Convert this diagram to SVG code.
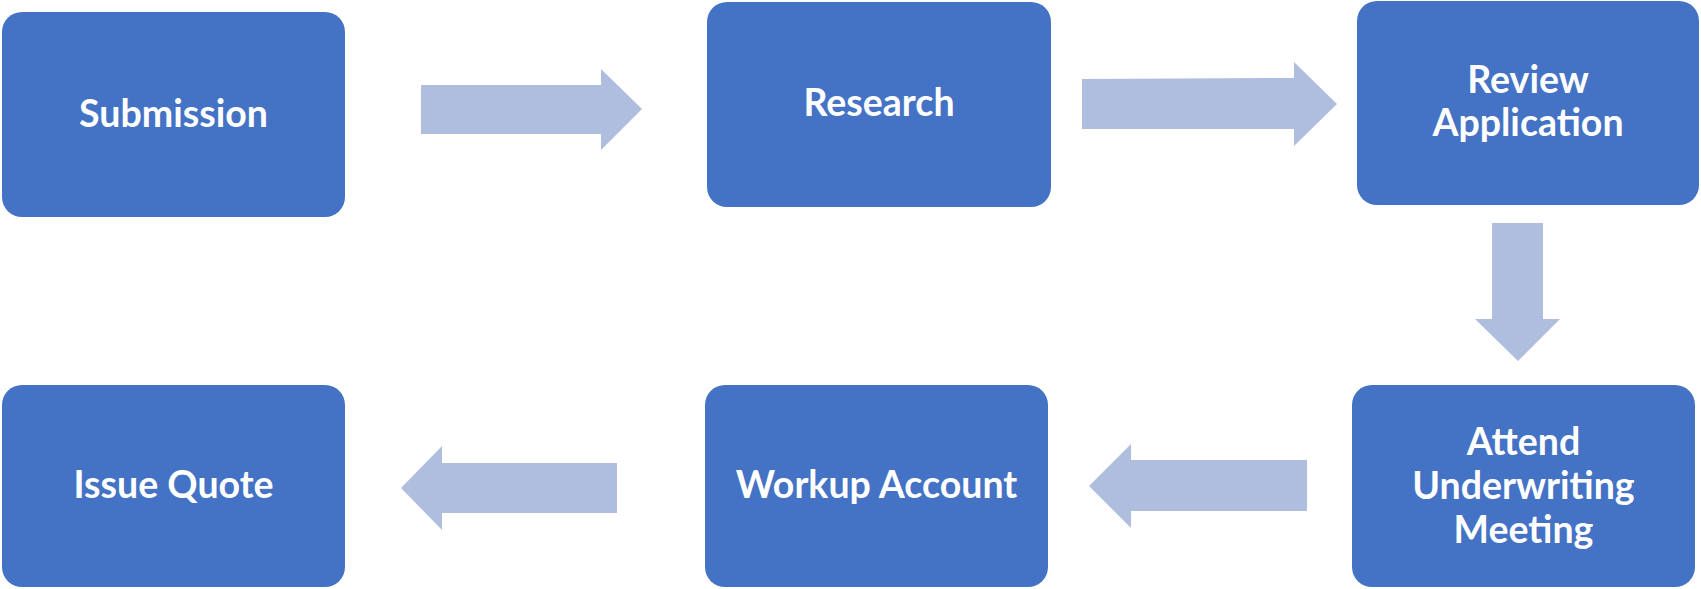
<svg xmlns="http://www.w3.org/2000/svg" width="1701" height="589" viewBox="0 0 1701 589">
<style>
.box{fill:#4472C4;}
.arr{fill:#AFBDDF;}
.lbl{font-family:Lato,"Open Sans","Liberation Sans",sans-serif;font-weight:bold;font-size:37.5px;fill:#FFFFFF;text-anchor:middle;}
</style>
<rect width="1701" height="589" fill="#FFFFFF"/>
<g id="connectors">
<polygon class="arr" points="421,85 601,85 601,69 642,109 601,150 601,134 421,134"/>
<polygon class="arr" points="1082,79 1294,78 1294,62 1337,104 1294,146 1294,129 1082,129"/>
<polygon class="arr" points="1492,223 1543,223 1543,319 1560,319 1518,361 1475,319 1492,319"/>
<polygon class="arr" points="1307,460 1131,460 1131,444 1089,486 1131,528 1131,511 1307,511"/>
<polygon class="arr" points="617,463 442,463 442,446 401,488 442,530 442,513 617,513"/>
</g>
<g id="submission">
<rect class="box" x="2" y="12" width="343" height="205" rx="20"/>
<text class="lbl" x="173.5" y="127">Submission</text>
</g>
<g id="research">
<rect class="box" x="707" y="2" width="344" height="205" rx="20"/>
<text class="lbl" x="879" y="116">Research</text>
</g>
<g id="review">
<rect class="box" x="1357" y="1" width="342" height="204" rx="20"/>
<text class="lbl" x="1528" y="93">Review</text>
<text class="lbl" x="1528" y="136">Application</text>
</g>
<g id="attend">
<rect class="box" x="1352" y="385" width="343" height="202" rx="20"/>
<text class="lbl" x="1523.5" y="455">Attend</text>
<text class="lbl" x="1523.5" y="499">Underwriting</text>
<text class="lbl" x="1523.5" y="543">Meeting</text>
</g>
<g id="workup">
<rect class="box" x="705" y="385" width="343" height="202" rx="20"/>
<text class="lbl" x="876.5" y="498">Workup Account</text>
</g>
<g id="issue">
<rect class="box" x="2" y="385" width="343" height="202" rx="20"/>
<text class="lbl" x="173.5" y="498">Issue Quote</text>
</g>
</svg>
